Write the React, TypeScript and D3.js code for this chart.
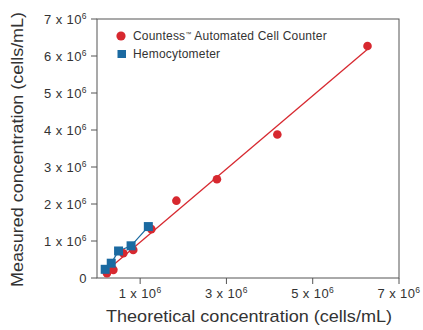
import React from 'react';
import * as d3 from 'd3';

// Countess automated counter readings (x: theoretical, y: measured)
const countessX = [0.23e6, 0.38e6, 0.61e6, 0.84e6, 1.26e6, 1.84e6, 2.78e6, 4.18e6, 6.27e6];
const countessY = [0.13e6, 0.22e6, 0.67e6, 0.76e6, 1.32e6, 2.09e6, 2.67e6, 3.88e6, 6.27e6];

// Hemocytometer readings
const hemoX = [0.19e6, 0.33e6, 0.50e6, 0.79e6, 1.19e6];
const hemoY = [0.235e6, 0.40e6, 0.73e6, 0.87e6, 1.39e6];

const yTicks = [0, 1e6, 2e6, 3e6, 4e6, 5e6, 6e6, 7e6];
const xTicks = [1e6, 3e6, 5e6, 7e6];

const RED = '#d7282f';
const BLUE = '#1b6aa1';
const FONT = '"Liberation Sans", Arial, Helvetica, sans-serif';

const W = 423;
const H = 330;
const margin = { left: 97, right: 24, top: 19, bottom: 52 };

const x = d3.scaleLinear().domain([0, 7e6]).range([margin.left, W - margin.right]);
const y = d3.scaleLinear().domain([0, 7e6]).range([H - margin.bottom, margin.top]);

const SciLabel = ({ v }: { v: number }) => {
  if (v === 0) return <tspan>0</tspan>;
  return (
    <>
      <tspan>{`${v / 1e6} x 10`}</tspan>
      <tspan dy={-5} fontSize={8.5}>6</tspan>
    </>
  );
};

export default function App() {
  // least squares fit through the Countess readings
  const mx = d3.mean(countessX)!;
  const my = d3.mean(countessY)!;
  const num = d3.sum(countessX, (v, i) => (v - mx) * (countessY[i] - my));
  const den = d3.sum(countessX, v => (v - mx) * (v - mx));
  const slope = num / den;
  const icpt = my - slope * mx;
  const x0 = 0.2e6;
  const x1 = 6.27e6;

  const hemoLine = d3.line<number>()
    .x((_, i) => x(hemoX[i]))
    .y(d => y(d));

  const [xl, xr] = x.range();
  const [yb, yt] = y.range();

  return (
    <div style={{ position: 'fixed', left: 0, top: 0 }}>
      <svg width={W} height={H} style={{ display: 'block', background: '#fff' }} fontFamily={FONT}>
        {/* frame */}
        <rect x={xl} y={yt} width={xr - xl} height={yb - yt} fill="none" stroke="#555" strokeWidth={1} />

        {/* y axis */}
        {yTicks.map(t => (
          <g key={'y' + t}>
            <line x1={xl - 6} x2={xl} y1={y(t)} y2={y(t)} stroke="#555" />
            <text x={xl - 10} y={y(t) + 5} textAnchor="end" fontSize={13} letterSpacing={0.4} fill="#333">
              <SciLabel v={t} />
            </text>
          </g>
        ))}

        {/* x axis */}
        {xTicks.map(t => (
          <g key={'x' + t}>
            <line x1={x(t)} x2={x(t)} y1={yb} y2={yb + 6} stroke="#555" />
            <text x={x(t)} y={yb + 20} textAnchor="middle" fontSize={13} letterSpacing={0.4} fill="#333">
              <SciLabel v={t} />
            </text>
          </g>
        ))}

        {/* fit line */}
        <line x1={x(x0)} y1={y(slope * x0 + icpt)} x2={x(x1)} y2={y(slope * x1 + icpt)} stroke={RED} strokeWidth={1.3} />

        {/* hemocytometer */}
        <path d={hemoLine(hemoY) || ''} fill="none" stroke={BLUE} strokeWidth={1.3} />

        {countessX.map((v, i) => (
          <circle key={'c' + i} cx={x(v)} cy={y(countessY[i])} r={4.3} fill={RED} />
        ))}
        {hemoX.map((v, i) => (
          <rect key={'h' + i} x={x(v) - 4.5} y={y(hemoY[i]) - 4.5} width={9} height={9} fill={BLUE} />
        ))}

        {/* legend */}
        <circle cx={121} cy={36} r={4.6} fill={RED} />
        <text x={133} y={39.5} fontSize={12} letterSpacing={0.2} fill="#333">
          Countess<tspan dy={-4} fontSize={6}>™</tspan><tspan dy={4}> Automated Cell Counter</tspan>
        </text>
        <rect x={117.5} y={50} width={8.5} height={8} fill={BLUE} />
        <text x={133} y={57.5} fontSize={12} letterSpacing={0.2} fill="#333">Hemocytometer</text>

        {/* axis titles */}
        <text x={249} y={321.5} textAnchor="middle" fontSize={17} textLength={286} lengthAdjust="spacingAndGlyphs" fill="#333">
          Theoretical concentration (cells/mL)
        </text>
        <text transform={`translate(23,149.5) rotate(-90)`} textAnchor="middle" fontSize={17} textLength={275} lengthAdjust="spacingAndGlyphs" fill="#333">
          Measured concentration (cells/mL)
        </text>
      </svg>
    </div>
  );
}
